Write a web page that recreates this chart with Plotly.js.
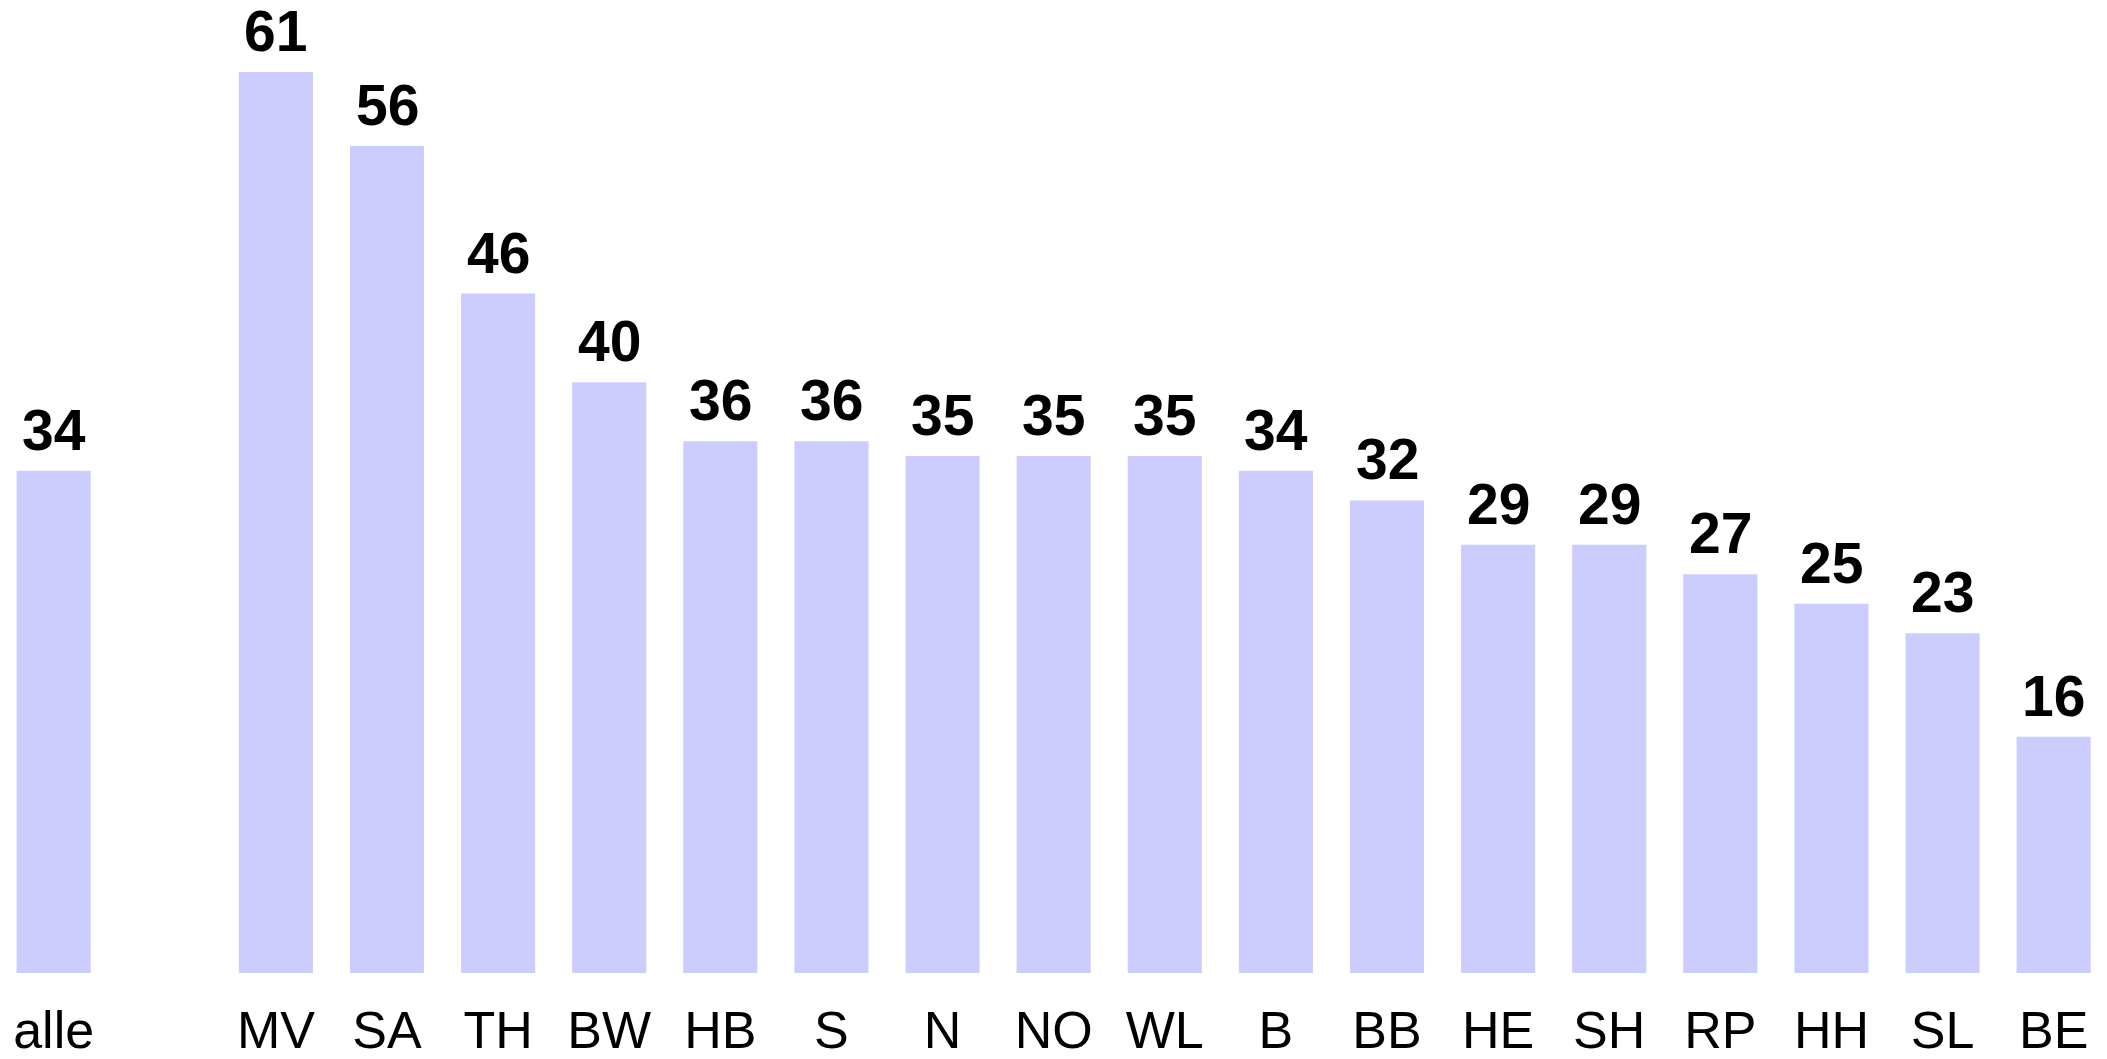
<!DOCTYPE html>
<html>
<head>
<meta charset="utf-8">
<script src="https://cdn.plot.ly/plotly-3.0.1.min.js"></script>
<style>html,body{margin:0;padding:0;background:#fff;}#chart{width:2107px;height:1059px;}</style>
</head>
<body>
<div id="chart"></div>
<script>
const categories = ['alle', 'MV', 'SA', 'TH', 'BW', 'HB', 'S', 'N', 'NO', 'WL', 'B', 'BB', 'HE', 'SH', 'RP', 'HH', 'SL', 'BE'];
const values = [34, 61, 56, 46, 40, 36, 36, 35, 35, 35, 34, 32, 29, 29, 27, 25, 23, 16];
// axis order: an empty slot separates "alle" from the states
const axisOrder = ['alle', ' '].concat(categories.slice(1));

const trace = {
  type: 'bar',
  x: categories,
  y: values,
  marker: {color: '#ccccff', line: {width: 0}},
  hoverinfo: 'x+y'
};

const annotations = categories.map((c, i) => ({
  x: c, y: values[i], xref: 'x', yref: 'y',
  text: String(values[i]),
  showarrow: false, yanchor: 'bottom', yshift: 7,
  font: {family: 'Liberation Sans, Arial, sans-serif', size: 57, color: '#000', weight: 'bold'}
}));

const layout = {
  width: 2107, height: 1059,
  margin: {l: 0, r: 0, t: 0, b: 86, pad: 0},
  paper_bgcolor: '#ffffff', plot_bgcolor: '#ffffff',
  bargap: 0.333,
  showlegend: false,
  xaxis: {
    type: 'category', categoryorder: 'array', categoryarray: axisOrder,
    range: [-0.483, 18.48],
    showgrid: false, zeroline: false, showline: false, ticks: '',
    ticklabelstandoff: 22,
    tickfont: {family: 'Liberation Sans, Arial, sans-serif', size: 52, color: '#000'}
  },
  yaxis: {
    range: [0, 65.88], visible: false, showgrid: false, zeroline: false
  },
  annotations: annotations
};

Plotly.newPlot('chart', [trace], layout, {displayModeBar: false, staticPlot: true});
</script>
</body>
</html>
